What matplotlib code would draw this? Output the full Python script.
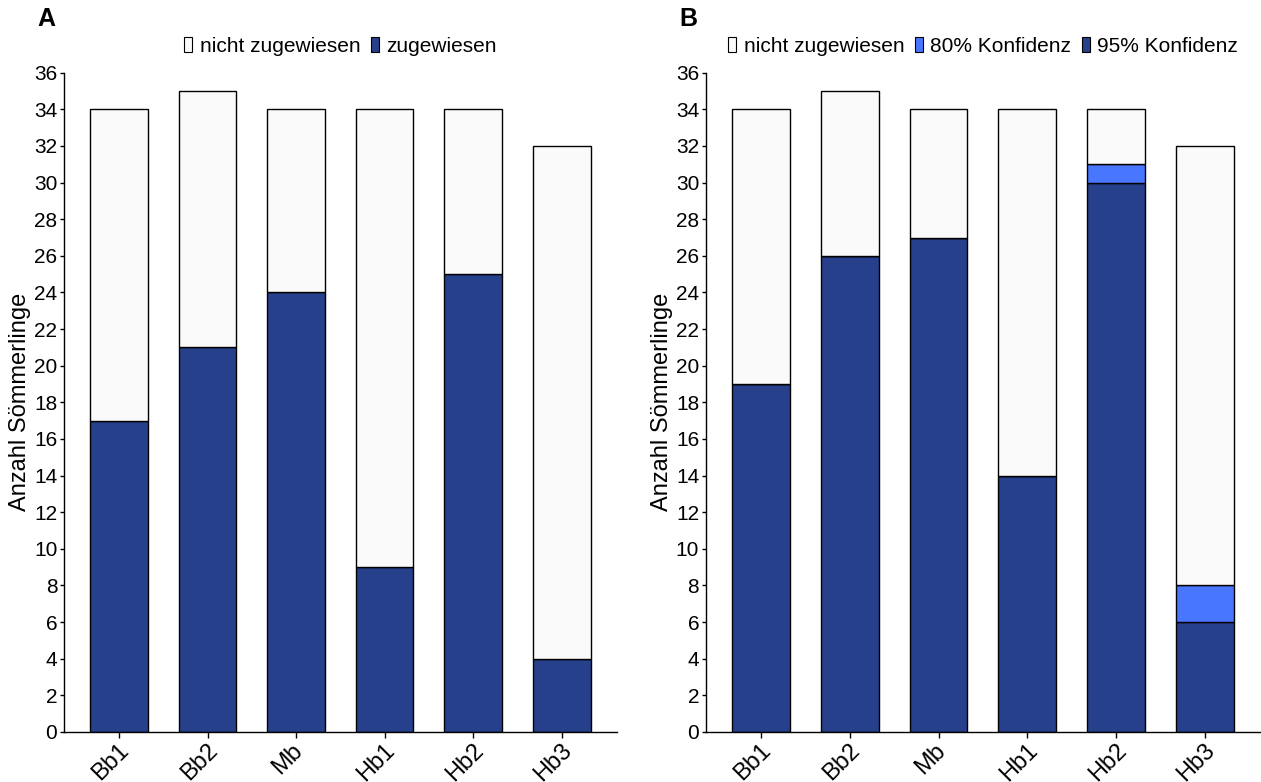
import matplotlib
matplotlib.use("Agg")
import matplotlib.pyplot as plt
from matplotlib.patches import Patch
import numpy as np

plt.rcParams['font.family'] = ['Liberation Sans', 'DejaVu Sans']

categories = ["Bb1", "Bb2", "Mb", "Hb1", "Hb2", "Hb3"]
totals = [34, 35, 34, 34, 34, 32]
a_assigned = [17, 21, 24, 9, 25, 4]
b_conf95 = [19, 26, 27, 14, 30, 6]
b_conf80 = [0, 0, 0, 0, 1, 2]

DARK = "#27408B"
LIGHT = "#4876FF"
WHITE = "#FAFAFA"

fig = plt.figure(figsize=(12.61, 7.82), dpi=100)
axA = fig.add_axes([0.051, 0.064, 0.438, 0.843])
axB = fig.add_axes([0.560, 0.064, 0.439, 0.843])

x = np.arange(len(categories))
w = 0.65

def style(ax):
    ax.set_xlim(-0.62, len(categories) - 1 + 0.62)
    ax.set_ylim(0, 36)
    ax.set_yticks(range(0, 37, 2))
    ax.set_xticks(x)
    ax.set_xticklabels([])
    for xi, lab in zip(x, categories):
        ax.annotate(lab, xy=(xi, 0), xycoords=('data', 'axes fraction'),
                    xytext=(-6.0, -5.5), textcoords='offset points',
                    rotation=45, ha='center', va='top', fontsize=17,
                    annotation_clip=False)
    ax.tick_params(axis='y', labelsize=15, length=3, width=1, pad=2)
    ax.tick_params(axis='x', length=4, width=1, pad=1)
    for s in ['top', 'right']:
        ax.spines[s].set_visible(False)
    for s in ['left', 'bottom']:
        ax.spines[s].set_linewidth(1)
    ax.set_ylabel("Anzahl Sömmerlinge", fontsize=17, labelpad=2)

def legend(ax, handles):
    ax.legend(handles=handles, loc='lower center', bbox_to_anchor=(0.5, 1.0), ncol=len(handles),
              frameon=False, fontsize=15, handlelength=0.4, handleheight=0.75,
              handletextpad=0.35, columnspacing=0.5, borderaxespad=0.4)

# Panel A
a_rest = [t - a for t, a in zip(totals, a_assigned)]
axA.bar(x, a_assigned, w, color=DARK, edgecolor='black', linewidth=1, zorder=2)
axA.bar(x, a_rest, w, bottom=a_assigned, color=WHITE, edgecolor='black', linewidth=1, zorder=2)
style(axA)
legend(axA, [Patch(facecolor=WHITE, edgecolor='black', linewidth=0.8, label='nicht zugewiesen'),
             Patch(facecolor=DARK, edgecolor='black', linewidth=0.8, label='zugewiesen')])

# Panel B
b_rest_bottom = [a + b for a, b in zip(b_conf95, b_conf80)]
b_rest = [t - r for t, r in zip(totals, b_rest_bottom)]
axB.bar(x, b_conf95, w, color=DARK, edgecolor='black', linewidth=1, zorder=2)
axB.bar(x, b_conf80, w, bottom=b_conf95, color=LIGHT, edgecolor='black', linewidth=1, zorder=2)
axB.bar(x, b_rest, w, bottom=b_rest_bottom, color=WHITE, edgecolor='black', linewidth=1, zorder=2)
style(axB)
legend(axB, [Patch(facecolor=WHITE, edgecolor='black', linewidth=0.8, label='nicht zugewiesen'),
             Patch(facecolor=LIGHT, edgecolor='black', linewidth=0.8, label='80% Konfidenz'),
             Patch(facecolor=DARK, edgecolor='black', linewidth=0.8, label='95% Konfidenz')])

fig.text(0.030, 0.991, "A", fontsize=18, fontweight='bold', va='top', ha='left')
fig.text(0.539, 0.991, "B", fontsize=18, fontweight='bold', va='top', ha='left')

fig.savefig("out.png", dpi=100)
